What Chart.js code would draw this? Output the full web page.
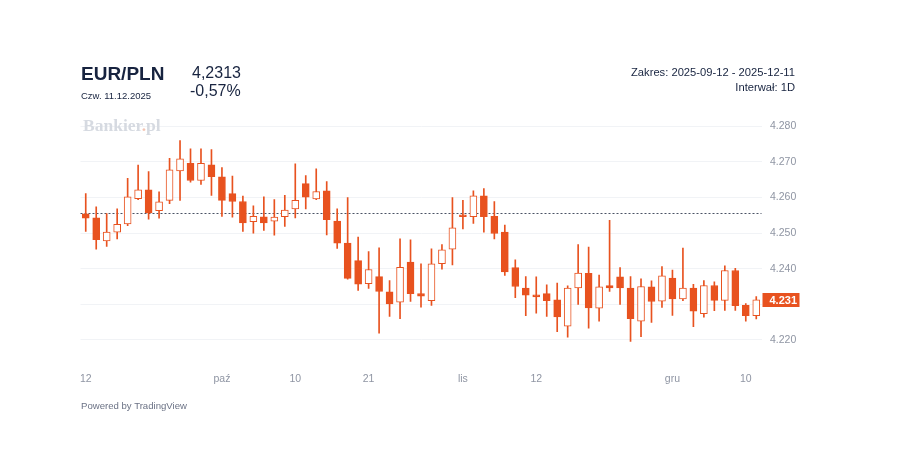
<!DOCTYPE html>
<html lang="pl">
<head>
<meta charset="UTF-8">
<title>EUR/PLN</title>
<script src="https://cdn.jsdelivr.net/npm/chart.js"></script>
<style>
  body { margin: 0; background: #fff; font-family: "Liberation Sans", Arial, sans-serif; }
  #wrap { position: relative; width: 899px; height: 474px; overflow: hidden; }
  #chart { position: absolute; left: 0; top: 0; }
  .t { position: absolute; white-space: nowrap; color: #17233f; }
  .mark { position: absolute; left: 83px; top: 115px; font-family: "Liberation Serif", serif; font-weight: bold; font-size: 17.5px; color: #d6dae1; }
  .mark span { color: #f3c4b2; }
</style>
</head>
<body>
<div id="wrap">
  <canvas id="chart" width="899" height="474"></canvas>
  <div class="mark">Bankier<span>.</span>pl</div>
  <div class="t" style="left:81px; top:63px; font-size:19px; font-weight:bold;">EUR/PLN</div>
  <div class="t" style="left:81px; top:90px; font-size:9.5px;">Czw. 11.12.2025</div>
  <div class="t" style="left:192px; top:64px; font-size:16px;">4,2313</div>
  <div class="t" style="left:190px; top:82px; font-size:16px;">-0,57%</div>
  <div class="t" style="right:104px; top:66px; font-size:11.2px; text-align:right;">Zakres: 2025-09-12 - 2025-12-11</div>
  <div class="t" style="right:104px; top:81px; font-size:11.2px; text-align:right;">Interwał: 1D</div>
  <div class="t" style="left:81px; top:400px; font-size:9.6px; color:#6b7285;">Powered by TradingView</div>
</div>

<script>
// trading days, 2025-09-12 .. 2025-12-11
const days = [
  '2025-09-12','2025-09-15','2025-09-16','2025-09-17','2025-09-18','2025-09-19',
  '2025-09-22','2025-09-23','2025-09-24','2025-09-25','2025-09-26','2025-09-29','2025-09-30',
  '2025-10-01','2025-10-02','2025-10-03','2025-10-06','2025-10-07','2025-10-08','2025-10-09','2025-10-10',
  '2025-10-13','2025-10-14','2025-10-15','2025-10-16','2025-10-17','2025-10-20','2025-10-21','2025-10-22',
  '2025-10-23','2025-10-24','2025-10-27','2025-10-28','2025-10-29','2025-10-30','2025-10-31',
  '2025-11-03','2025-11-04','2025-11-05','2025-11-06','2025-11-07','2025-11-10','2025-11-11','2025-11-12',
  '2025-11-13','2025-11-14','2025-11-17','2025-11-18','2025-11-19','2025-11-20','2025-11-21',
  '2025-11-24','2025-11-25','2025-11-26','2025-11-27','2025-11-28',
  '2025-12-01','2025-12-02','2025-12-03','2025-12-04','2025-12-05','2025-12-08','2025-12-09','2025-12-10','2025-12-11'
];

const opens = [
  4.2554,4.2543,4.2478,4.2503,4.2526,4.2597,4.2622,4.2563,4.2592,4.2675,4.2696,4.2648,4.2692,
  4.2658,4.2611,4.2589,4.2532,4.2546,4.2534,4.2546,4.2568,4.2639,4.2596,4.2619,4.2534,4.2472,
  4.2423,4.2358,4.2378,4.2335,4.2306,4.2419,4.2330,4.2310,4.2414,4.2455,4.2548,4.2546,4.2605,
  4.2547,4.2503,4.2403,4.2346,4.2327,4.2330,4.2313,4.2239,4.2346,4.2387,4.2289,4.2353,4.2377,
  4.2346,4.2253,4.2349,4.2309,4.2374,4.2315,4.2346,4.2274,4.2353,4.2311,4.2395,4.2297,4.2268
];
const highs = [
  4.2611,4.2574,4.2555,4.2568,4.2654,4.2691,4.2673,4.2616,4.2710,4.2760,4.2737,4.2737,4.2735,
  4.2684,4.2660,4.2604,4.2577,4.2602,4.2594,4.2606,4.2695,4.2662,4.2681,4.2645,4.2568,4.2600,
  4.2489,4.2448,4.2459,4.2367,4.2484,4.2481,4.2414,4.2456,4.2468,4.2600,4.2592,4.2619,4.2625,
  4.2589,4.2523,4.2425,4.2378,4.2377,4.2355,4.2360,4.2352,4.2468,4.2461,4.2382,4.2536,4.2403,
  4.2378,4.2372,4.2366,4.2406,4.2396,4.2458,4.2356,4.2367,4.2363,4.2408,4.2401,4.2302,4.2322
];
const lows = [
  4.2505,4.2455,4.2463,4.2484,4.2521,4.2594,4.2539,4.2542,4.2583,4.2592,4.2643,4.2637,4.2606,
  4.2547,4.2545,4.2505,4.2500,4.2508,4.2494,4.2519,4.2543,4.2568,4.2594,4.2495,4.2457,4.2371,
  4.2339,4.2345,4.2219,4.2266,4.2260,4.2308,4.2292,4.2297,4.2399,4.2411,4.2512,4.2527,4.2503,
  4.2484,4.2381,4.2319,4.2268,4.2275,4.2266,4.2223,4.2208,4.2300,4.2233,4.2253,4.2336,4.2300,
  4.2196,4.2209,4.2249,4.2291,4.2269,4.2310,4.2237,4.2264,4.2282,4.2283,4.2283,4.2253,4.2259
];
const closes = [
  4.2542,4.2482,4.2503,4.2525,4.2602,4.2622,4.2557,4.2588,4.2678,4.2709,4.2648,4.2696,4.2659,
  4.2592,4.2589,4.2529,4.2547,4.2529,4.2545,4.2565,4.2592,4.2601,4.2617,4.2538,4.2472,4.2373,
  4.2357,4.2398,4.2336,4.2301,4.2404,4.2330,4.2323,4.2414,4.2453,4.2515,4.2546,4.2605,4.2546,
  4.2499,4.2391,4.2350,4.2326,4.2321,4.2310,4.2265,4.2346,4.2388,4.2290,4.2349,4.2346,4.2346,
  4.2260,4.2350,4.2308,4.2380,4.2315,4.2346,4.2281,4.2353,4.2311,4.2395,4.2296,4.2268,4.2313
];

// x axis labels shown under these days
const tickDays  = ['2025-09-12','2025-10-01','2025-10-10','2025-10-21','2025-11-03','2025-11-12','2025-12-01','2025-12-10'];
const tickTexts = ['12','paź','10','21','lis','12','gru','10'];

const yTicks = [4.220, 4.230, 4.240, 4.250, 4.260, 4.270, 4.280];
const baseLine = 4.2556;   // dotted reference line
const lastPrice = closes[closes.length - 1];

const ORANGE = '#e8521f';

const wicks = days.map((d, i) => [lows[i], highs[i]]);
const bodies = days.map((d, i) => [Math.min(opens[i], closes[i]), Math.max(opens[i], closes[i])]);
const bodyFill = days.map((d, i) => closes[i] >= opens[i] ? '#ffffff' : ORANGE);

// dotted line under the candles and the last price box on the axis
const extras = {
  id: 'extras',
  beforeDatasetsDraw(chart) {
    const { ctx, chartArea, scales } = chart;
    const y = Math.round(scales.y.getPixelForValue(baseLine)) + 0.5;
    ctx.save();
    ctx.strokeStyle = '#4a5365';
    ctx.lineWidth = 1;
    ctx.setLineDash([2, 2]);
    ctx.beginPath();
    ctx.moveTo(chartArea.left, y);
    ctx.lineTo(chartArea.right, y);
    ctx.stroke();
    ctx.restore();
  },
  afterDraw(chart) {
    const { ctx, chartArea, scales } = chart;
    const y = scales.y.getPixelForValue(lastPrice);
    ctx.save();
    ctx.fillStyle = ORANGE;
    ctx.fillRect(chartArea.right + 1, Math.round(y) - 7, 37, 14);
    ctx.fillStyle = '#ffffff';
    ctx.font = 'bold 11px "Liberation Sans", Arial, sans-serif';
    ctx.textBaseline = 'middle';
    ctx.textAlign = 'left';
    ctx.fillText(lastPrice.toFixed(3), chartArea.right + 8, Math.round(y) + 0.5);
    ctx.restore();
  }
};

new Chart(document.getElementById('chart'), {
  type: 'bar',
  data: {
    labels: days,
    datasets: [
      {
        label: 'body',
        data: bodies,
        backgroundColor: bodyFill,
        borderColor: ORANGE,
        borderWidth: 1,
        borderSkipped: false,
        barThickness: 7,
        minBarLength: 2,
        grouped: false,
        order: 0
      },
      {
        label: 'wick',
        data: wicks,
        backgroundColor: ORANGE,
        borderWidth: 0,
        barThickness: 1,
        grouped: false,
        order: 1
      }
    ]
  },
  options: {
    responsive: false,
    animation: false,
    devicePixelRatio: 1,
    layout: { padding: { left: 80.5, top: 110, right: 97.5, bottom: 82 } },
    plugins: { legend: { display: false }, tooltip: { enabled: false } },
    scales: {
      x: {
        type: 'category',
        offset: true,
        afterFit: (scale) => { scale.height = 30; },
        grid: { display: false, drawTicks: false },
        border: { display: false },
        ticks: {
          autoSkip: false,
          maxRotation: 0,
          padding: 11,
          color: '#8f95a3',
          font: { size: 10.5, family: '"Liberation Sans", Arial, sans-serif' },
          callback: function (value) {
            const k = tickDays.indexOf(this.getLabelForValue(value));
            return k >= 0 ? tickTexts[k] : '';
          }
        }
      },
      y: {
        position: 'right',
        min: 4.2138,
        max: 4.2846,
        afterFit: (scale) => { scale.width = 40; },
        afterBuildTicks: (scale) => { scale.ticks = yTicks.map(v => ({ value: v })); },
        grid: { color: '#f1f3f6', drawTicks: false },
        border: { display: false },
        ticks: {
          padding: 8.5,
          color: '#8f95a3',
          font: { size: 10.5, family: '"Liberation Sans", Arial, sans-serif' },
          callback: (v) => v.toFixed(3)
        }
      }
    }
  },
  plugins: [extras]
});
</script>
</body>
</html>
